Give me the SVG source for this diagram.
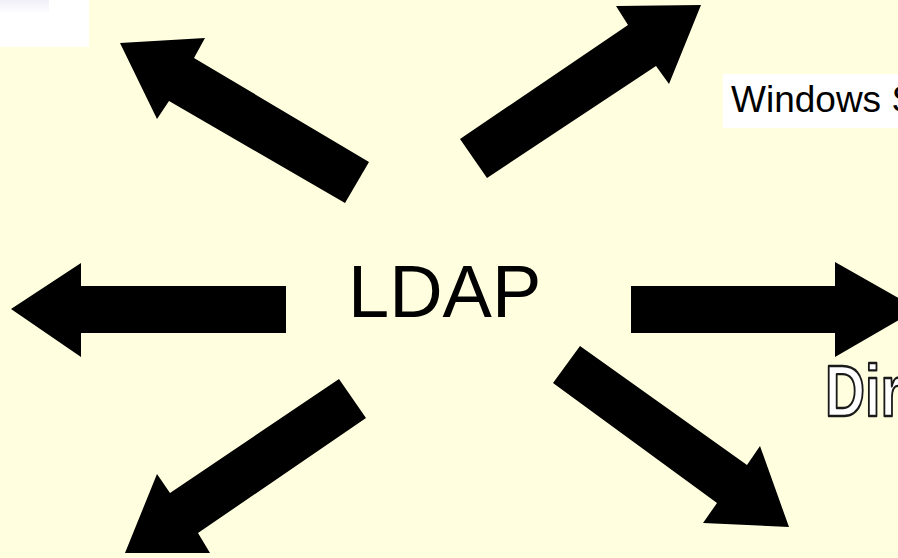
<svg xmlns="http://www.w3.org/2000/svg" width="898" height="558" viewBox="0 0 898 558">
  <style>
    .arrow { fill: #000000; }
    .label { font-family: "Liberation Sans", Arial, sans-serif; fill: #000000; }
  </style>
  <defs>
    <linearGradient id="tabShade" x1="0" y1="0" x2="0" y2="1">
      <stop offset="0" stop-color="#f1f0f8"/>
      <stop offset="1" stop-color="#ffffff"/>
    </linearGradient>
  </defs>

  <!-- background -->
  <rect x="0" y="0" width="898" height="558" fill="#ffffe0"/>

  <!-- panel in the top-left corner -->
  <g id="corner-panel">
    <rect x="0" y="0" width="89" height="47" fill="#ffffff"/>
    <rect x="0" y="0" width="49" height="14" fill="url(#tabShade)"/>
  </g>

  <!-- central node -->
  <g id="ldap">
    <text class="label" x="348" y="317" font-size="74">LDAP</text>
  </g>

  <!-- Windows label, running off the right edge -->
  <g id="windows">
    <rect x="723" y="74" width="180" height="54" fill="#ffffff"/>
    <text class="label" x="731" y="112" font-size="37">Windows S</text>
  </g>

  <!-- outlined "Dir" label, running off the right edge -->
  <g id="directory">
    <text x="0" y="0" transform="translate(825 416) scale(0.76 1)" font-family="'Liberation Sans', Arial, sans-serif" font-weight="bold" font-size="73" fill="#ffffff" stroke="#1a1a1a" stroke-width="2.4" stroke-linejoin="round">Dir</text>
  </g>

  <!-- block arrows radiating from the centre -->
  <g id="connectors">
    <!-- up-left -->
    <polygon class="arrow" points="369,162 345,203 169,101 157,119 120,43 205,38 194,58"/>
    <!-- up-right -->
    <polygon class="arrow" points="460,139 487,178 656,66 669,84 701,5 616,6 628,25"/>
    <!-- left -->
    <polygon class="arrow" points="286,286 286,333 81,333 81,357 11,309 81,263 81,286"/>
    <!-- right -->
    <polygon class="arrow" points="631,286 631,333 835,333 835,357 918,309 835,262 835,286"/>
    <!-- down-left -->
    <polygon class="arrow" points="339,379 366,418 198,533 210,553 125,553 157,474 170,493"/>
    <!-- down-right -->
    <polygon class="arrow" points="580,346 553,383 717,503 703,523 789,527 760,446 747,465"/>
  </g>
</svg>
